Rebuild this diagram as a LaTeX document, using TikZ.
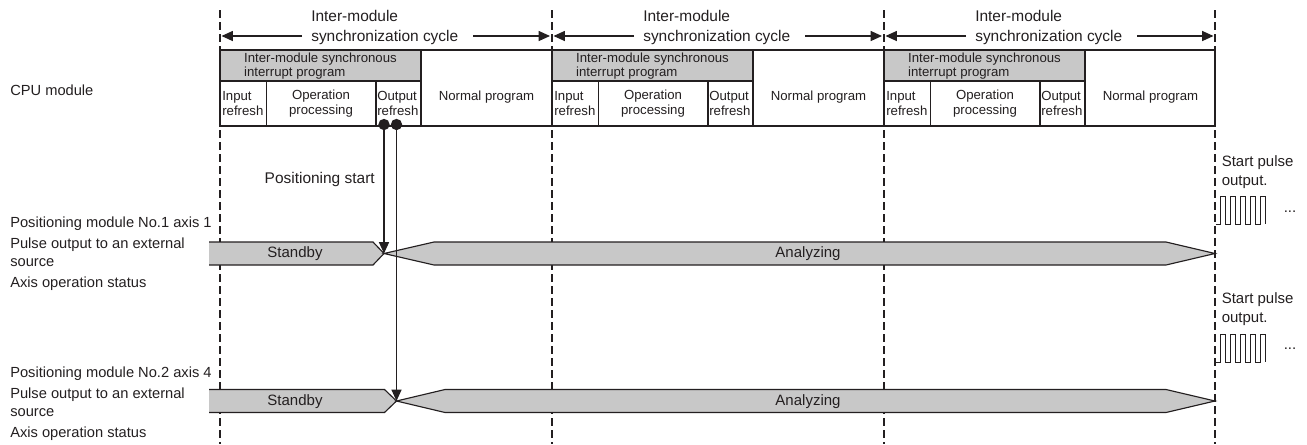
\documentclass[tikz,border=0pt]{standalone}
\usepackage{fontspec}
\setmainfont{Liberation Sans}
\usetikzlibrary{arrows.meta}
\definecolor{barfill}{RGB}{200,200,200}
\definecolor{lineclr}{RGB}{35,31,32}
\begin{document}
\begin{tikzpicture}[x=0.75pt,y=-0.75pt,
  lbl/.style={font=\fontsize{11}{13}\selectfont, anchor=base west, inner sep=0, text=lineclr},
  hdr/.style={font=\fontsize{11.6}{14}\selectfont, anchor=base west, inner sep=0, text=lineclr},
  cell/.style={font=\fontsize{9.9}{11.25}\selectfont, inner sep=0, text=lineclr},
  bartxt/.style={font=\fontsize{11.25}{13}\selectfont, inner sep=0, text=lineclr},
  boxline/.style={draw=lineclr, line width=1.1pt},
  vdash/.style={draw=lineclr, line width=0.9pt, dash pattern=on 6pt off 3pt},
  arr/.style={draw=lineclr, line width=0.85pt, -{Triangle[length=8.5pt,width=7.5pt]}},
  barline/.style={draw=lineclr, line width=0.85pt, line join=miter},
  pulse/.style={draw=lineclr, line width=0.7pt},
  dot/.style={circle, fill=lineclr, inner sep=0, minimum size=8.5pt},
]
\useasboundingbox (0,0) rectangle (1307,444);

% dashed cycle boundaries
\foreach \x in {220,552,884,1215} \draw[vdash] (\x,10) -- (\x,444);

% left labels
\node[lbl] (cpu) at (10,95) {CPU module};
\node[lbl] (m1a) at (10,227) {Positioning module No.1 axis 1};
\node[lbl] (m1b) at (10,248) {Pulse output to an external};
\node[lbl] (m1c) at (10,266) {source};
\node[lbl] (m1d) at (10,287) {Axis operation status};
\node[lbl] (m2a) at (10,377) {Positioning module No.2 axis 4};
\node[lbl] (m2b) at (10,398) {Pulse output to an external};
\node[lbl] (m2c) at (10,416) {source};
\node[lbl] (m2d) at (10,437) {Axis operation status};

% cycles
\foreach \i in {0,1,2} {
  \pgfmathsetmacro\xo{220+332*\i}
  \pgfmathsetmacro\xe{min(\xo+331.5,1215)}
  % header
  \node[hdr] (ct\i) at (\xo+91,21.5) {Inter-module};
  \node[hdr] (sc\i) at (\xo+91,41) {synchronization cycle};
  \coordinate (cL\i) at (\xo+1.5,36);
  \coordinate (aL\i) at (\xo+82,36);
  \coordinate (aR\i) at (\xo+253,36);
  \coordinate (cR\i) at (\xe-1.5,36);
  \draw[arr] (aL\i) -- (cL\i);
  \draw[arr] (aR\i) -- (cR\i);
  % CPU block
  \fill[white] (\xo,50) rectangle (\xe,126);
  \fill[barfill] (\xo,50) rectangle (\xo+201,81);
  \draw[boxline] (\xo,50) rectangle (\xe,126);
  \draw[boxline] (\xo,81) -- (\xo+201,81);
  \draw[boxline] (\xo+201,50) -- (\xo+201,126);
  \draw[boxline] (\xo+46.5,81) -- (\xo+46.5,126);
  \draw[boxline] (\xo+156,81) -- (\xo+156,126);
  \node[cell, align=left, font=\fontsize{9.9}{9}\selectfont] (ip\i) at (\xo+100.5,66) {Inter-module synchronous\\interrupt program};
  \node[cell, align=left, anchor=west] (ir\i) at (\xo+2,103.7) {Input\\refresh};
  \node[cell, align=center] (op\i) at (\xo+101,103.7) {Operation\\processing};
  \node[cell, align=left, anchor=west] (or\i) at (\xo+157,103.7) {Output\\refresh};
  \node[cell, anchor=base] (np\i) at (\xo+266.5,100.5) {Normal program};
}

% row 1 bars
\fill[barfill] (209,242) -- (373,242) -- (384,253.5) -- (373,265) -- (209,265) -- cycle;
\draw[barline] (209,242) -- (373,242) -- (384,253.5) -- (373,265) -- (209,265);
\coordinate (tip1) at (384,253.5);
\filldraw[barline, fill=barfill] (tip1) -- (434,242) -- (1166,242) -- (1215,253.5) -- (1166,265) -- (434,265) -- cycle;
\node[bartxt] (sb1) at (295,254) {Standby};
\node[bartxt] (an1) at (808,254) {Analyzing};

% row 2 bars
\fill[barfill] (209,389.5) -- (384.5,389.5) -- (396.5,401) -- (384.5,412.5) -- (209,412.5) -- cycle;
\draw[barline] (209,389.5) -- (384.5,389.5) -- (396.5,401) -- (384.5,412.5) -- (209,412.5);
\coordinate (tip2) at (396.5,401);
\filldraw[barline, fill=barfill] (tip2) -- (445,389.5) -- (1166,389.5) -- (1215,401) -- (1166,412.5) -- (445,412.5) -- cycle;
\node[bartxt] (sb2) at (295,402) {Standby};
\node[bartxt] (an2) at (808,402) {Analyzing};

% output refresh dots and start arrows
\node[dot] (d1) at (384,124.5) {};
\node[dot] (d2) at (396.5,124.5) {};
\draw[arr] (d1.center) -- (tip1);
\draw[arr] (d2.center) -- (tip2);
\node[hdr, anchor=base east] (ps) at (375,183) {Positioning start};

% pulse outputs
\node[bartxt, align=left, anchor=west, font=\fontsize{11.25}{14.25}\selectfont] (sp1) at (1221.5,172.6) {Start pulse\\output.};
\draw[pulse] (1215.5,224) \foreach \k in {0,...,4} { -- ++(4.5,0) -- ++(0,-28) -- ++(5.5,0) -- ++(0,28) };
\node[bartxt, anchor=base] (el1) at (1290,212.5) {...};
\node[bartxt, align=left, anchor=west, font=\fontsize{11.25}{14.25}\selectfont] (sp2) at (1221.5,309.6) {Start pulse\\output.};
\draw[pulse] (1215.5,362) \foreach \k in {0,...,4} { -- ++(4.5,0) -- ++(0,-28) -- ++(5.5,0) -- ++(0,28) };
\node[bartxt, anchor=base] (el2) at (1290,349.5) {...};
\end{tikzpicture}
\end{document}
